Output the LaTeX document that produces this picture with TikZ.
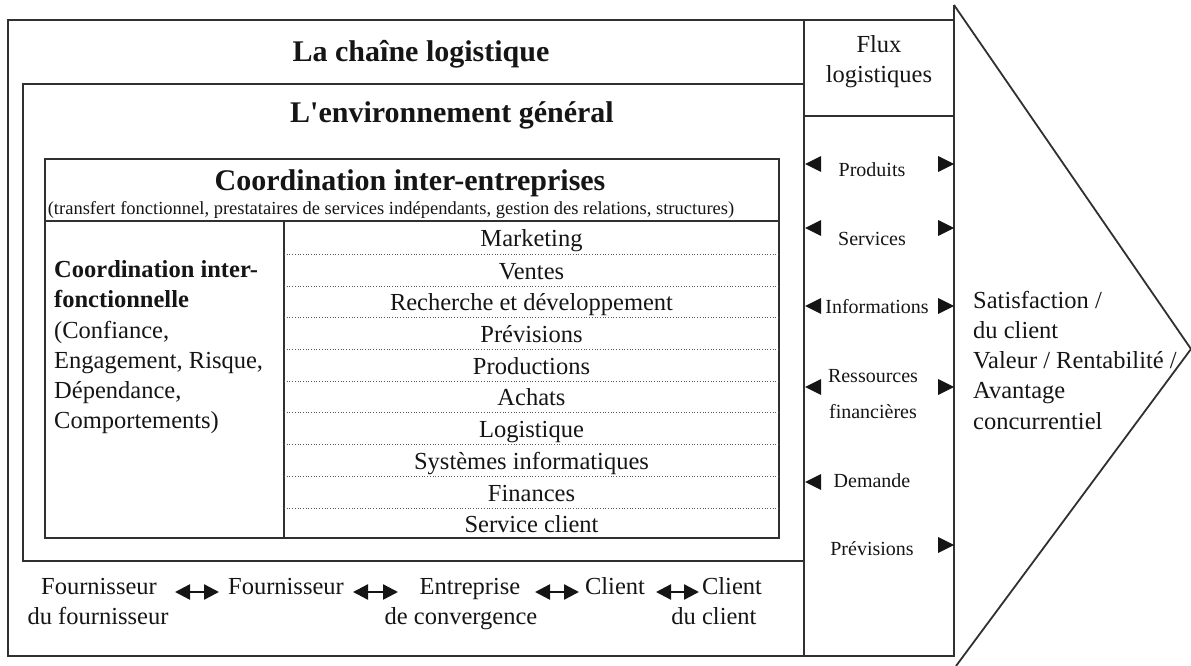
\documentclass[tikz,border=0pt]{standalone}
\usepackage{fontspec}
\setmainfont{Liberation Serif}[Ligatures=TeXOff]
\usetikzlibrary{arrows.meta}
\definecolor{linec}{HTML}{303030}
\definecolor{txtc}{HTML}{151515}
\begin{document}
\begin{tikzpicture}[x=1pt,y=-1pt,
  frame/.style={draw=linec, line width=1.8pt},
  thin/.style={draw=linec, line width=1.3pt},
  sep/.style={draw=linec!80, line width=0.7pt, dotted},
  ttl/.style={font=\fontsize{30}{36}\selectfont\bfseries, anchor=base, inner sep=0pt, text=txtc},
  subttl/.style={font=\fontsize{18.5}{22}\selectfont, anchor=base, inner sep=0pt, text=txtc},
  rowtxt/.style={font=\fontsize{24.5}{30}\selectfont, anchor=base, inner sep=0pt, text=txtc},
  lefttxt/.style={font=\fontsize{24.5}{30}\selectfont, anchor=base west, inner sep=0pt, text=txtc},
  leftbold/.style={lefttxt, font=\fontsize{24.5}{30}\selectfont\bfseries},
  flx/.style={font=\fontsize{20}{24}\selectfont, anchor=base, inner sep=0pt, text=txtc},
  head/.style={fill=txtc},
  dbl/.style={draw=txtc, line width=2.4pt, {Triangle[length=15pt,width=15pt]}-{Triangle[length=15pt,width=15pt]}}
]
\useasboundingbox (0,0) rectangle (1191,666);

% big arrow (triangle) on the right
\draw[frame] (954,5) -- (1191,349) -- (956,666);
\draw[frame] (954,5) -- (954,656);

% outer box: la chaine logistique
\draw[frame] (8,20) rectangle (954,656);
% flux column
\draw[frame] (804,20) -- (804,656);
\draw[frame] (804,116) -- (954,116);
% environment box
\draw[frame] (23,84) rectangle (804,561);
% coordination table
\draw[thin] (45,159) rectangle (779,538);
\draw[thin] (45,221) -- (779,221);
\draw[thin] (284,221) -- (284,538);
\foreach \yy in {254,286,317,349,381,412,444,476,508}
  \draw[sep] (284,\yy) -- (779,\yy);

% titles
\node[ttl] (chaine) at (421,62) {La chaîne logistique};
\node[ttl] (env) at (452,123) {L'environnement général};
\node[ttl] (coordie) at (410,190) {Coordination inter-entreprises};
\node[subttl] (coordsub) at (391,214) {(transfert fonctionnel, prestataires de services indépendants, gestion des relations, structures)};

% table rows
\node[rowtxt] (r1) at (531.5,246.5) {Marketing};
\node[rowtxt] (r2) at (531.5,279) {Ventes};
\node[rowtxt] (r3) at (531.5,310.5) {Recherche et développement};
\node[rowtxt] (r4) at (531.5,342) {Prévisions};
\node[rowtxt] (r5) at (531.5,374) {Productions};
\node[rowtxt] (r6) at (531.5,405.5) {Achats};
\node[rowtxt] (r7) at (531.5,437) {Logistique};
\node[rowtxt] (r8) at (531.5,469) {Systèmes informatiques};
\node[rowtxt] (r9) at (531.5,501) {Finances};
\node[rowtxt] (r10) at (531.5,532) {Service client};

% left cell
\node[leftbold] (l1) at (54,277) {Coordination inter-};
\node[leftbold] (l2) at (54,307) {fonctionnelle};
\node[lefttxt] (l3) at (54,338) {(Confiance,};
\node[lefttxt] (l4) at (54,368) {Engagement, Risque,};
\node[lefttxt] (l5) at (54,398) {Dépendance,};
\node[lefttxt] (l6) at (54,428) {Comportements)};

% flux header
\node[rowtxt] (flux1) at (879,53) {Flux};
\node[rowtxt] (flux2) at (879,83) {logistiques};

% flux items
\node[flx] (prod) at (872,176) {Produits};
\node[flx] (serv) at (872,245) {Services};
\node[flx] (info) at (877,313) {Informations};
\node[flx] (ress1) at (873,382) {Ressources};
\node[flx] (ress2) at (873,418) {financières};
\node[flx] (dem) at (872,487) {Demande};
\node[flx] (prev) at (872,555) {Prévisions};

% arrowheads in flux column (left pointing, right pointing)
\foreach \yy in {164,228,306,387,482}
  \fill[head] (805,\yy) -- (821,\yy-8) -- (821,\yy+8) -- cycle;
\foreach \yy in {164,228,306,387,545}
  \fill[head] (954,\yy) -- (938,\yy-8) -- (938,\yy+8) -- cycle;

% right text
\node[lefttxt] (s1) at (973,308) {Satisfaction /};
\node[lefttxt] (s2) at (973,338) {du client};
\node[lefttxt] (s3) at (973,368) {Valeur / Rentabilité /};
\node[lefttxt] (s4) at (973,398) {Avantage};
\node[lefttxt] (s5) at (973,429) {concurrentiel};

% bottom chain
\node[rowtxt] (f1a) at (99,594) {Fournisseur};
\node[rowtxt] (f1b) at (98,624) {du fournisseur};
\node[rowtxt] (f2) at (286,594) {Fournisseur};
\node[rowtxt] (e1) at (470,594) {Entreprise};
\node[rowtxt] (e2) at (461,624) {de convergence};
\node[rowtxt] (c1) at (615,594) {Client};
\node[rowtxt] (c2a) at (732,594) {Client};
\node[rowtxt] (c2b) at (714,624) {du client};

\coordinate (a1l) at (175,592); \coordinate (a1r) at (219,592);
\coordinate (a2l) at (353,592); \coordinate (a2r) at (398,592);
\coordinate (a3l) at (535,592); \coordinate (a3r) at (579,592);
\coordinate (a4l) at (656,592); \coordinate (a4r) at (699,592);
\draw[dbl] (a1l) -- (a1r);
\draw[dbl] (a2l) -- (a2r);
\draw[dbl] (a3l) -- (a3r);
\draw[dbl] (a4l) -- (a4r);
\end{tikzpicture}
\end{document}
